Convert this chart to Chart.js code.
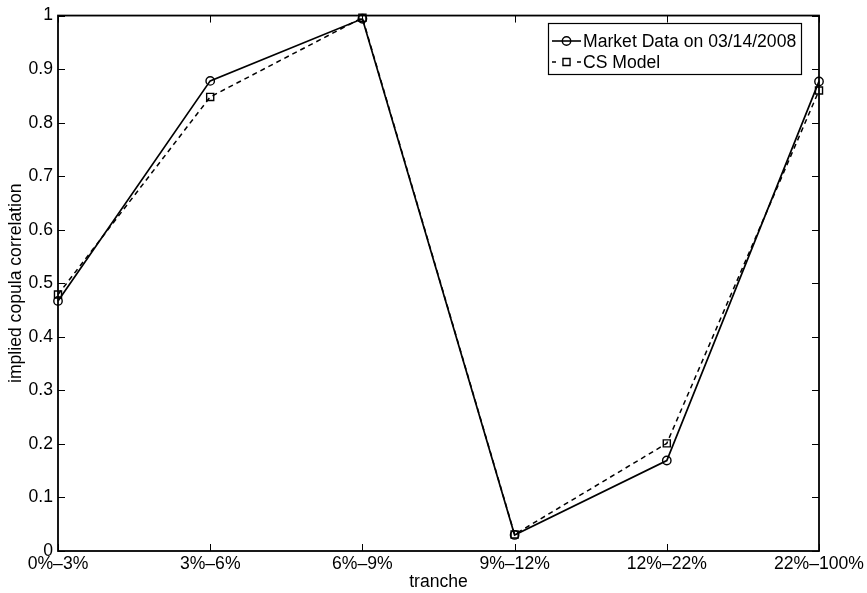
<!DOCTYPE html>
<html>
<head>
<meta charset="utf-8">
<script src="https://cdn.jsdelivr.net/npm/chart.js@4/dist/chart.umd.min.js"></script>
<style>
  html, body { margin: 0; padding: 0; background: #fff; }
  #wrap { width: 867px; height: 593px; }
</style>
</head>
<body>
<div id="wrap"><canvas id="c" width="867" height="593"></canvas></div>
<script>
// Implied copula correlation per tranche
const tranches = ['0%\u20133%', '3%\u20136%', '6%\u20139%', '9%\u201312%', '12%\u201322%', '22%\u2013100%'];
const marketData = [0.467, 0.878, 0.994, 0.030, 0.169, 0.877];
const csModel = [0.479, 0.848, 0.996, 0.031, 0.201, 0.860];
const yTickLabels = ['0', '0.1', '0.2', '0.3', '0.4', '0.5', '0.6', '0.7', '0.8', '0.9', '1'];
const seriesNames = ['Market Data on 03/14/2008', 'CS Model'];

const FONT = 'Liberation Sans, Arial, Helvetica, sans-serif';
const FSIZE = 17.6;
const TICK_LEN = 7;

// MATLAB style box: frame + inward ticks on all four sides
const boxTicks = {
  id: 'boxTicks',
  afterDraw(chart) {
    const { ctx, chartArea: a } = chart;
    const xs = chart.scales.x, ys = chart.scales.y;
    ctx.save();
    ctx.strokeStyle = '#000';
    ctx.lineWidth = 1;
    ctx.beginPath();
    xs.ticks.forEach((t, i) => {
      const px = Math.round(xs.getPixelForValue(i)) + 0.5;
      ctx.moveTo(px, a.bottom); ctx.lineTo(px, a.bottom - TICK_LEN);
      ctx.moveTo(px, a.top); ctx.lineTo(px, a.top + TICK_LEN);
    });
    ys.ticks.forEach((t) => {
      const py = Math.round(ys.getPixelForValue(t.value)) + 0.5;
      ctx.moveTo(a.left, py); ctx.lineTo(a.left + TICK_LEN, py);
      ctx.moveTo(a.right, py); ctx.lineTo(a.right - TICK_LEN, py);
    });
    ctx.stroke();
    ctx.lineWidth = 1.8;
    ctx.strokeRect(a.left, a.top, a.right - a.left, a.bottom - a.top);
    ctx.restore();
  }
};

// Legend box in the upper right of the axes
const boxLegend = {
  id: 'boxLegend',
  afterDraw(chart) {
    const ctx = chart.ctx;
    const bx = 548.5, by = 23.5, bw = 253, bh = 51;
    ctx.save();
    ctx.fillStyle = '#fff';
    ctx.fillRect(bx, by, bw, bh);
    ctx.strokeStyle = '#000';
    ctx.lineWidth = 1.2;
    ctx.strokeRect(bx, by, bw, bh);

    const rows = [41, 62];
    chart.data.datasets.forEach((ds, i) => {
      const y = rows[i];
      ctx.strokeStyle = '#000';
      ctx.lineWidth = 1.6;
      ctx.beginPath();
      if (i === 0) {
        ctx.moveTo(552, y); ctx.lineTo(581, y);
      } else {
        ctx.moveTo(552, y); ctx.lineTo(556, y);
        ctx.moveTo(577, y); ctx.lineTo(581, y);
      }
      ctx.stroke();
      ctx.lineWidth = 1.4;
      ctx.beginPath();
      if (ds.pointStyle === 'circle') {
        ctx.arc(566.5, y, ds.pointRadius, 0, Math.PI * 2);
      } else {
        const s = Math.SQRT1_2 * ds.pointRadius;
        ctx.rect(566.5 - s, y - s, 2 * s, 2 * s);
      }
      ctx.stroke();
      ctx.fillStyle = '#000';
      ctx.font = FSIZE + 'px ' + FONT;
      ctx.textAlign = 'left';
      ctx.textBaseline = 'middle';
      ctx.fillText(ds.label, 583, y + 1);
    });
    ctx.restore();
  }
};

const ctx = document.getElementById('c').getContext('2d');
new Chart(ctx, {
  type: 'line',
  data: {
    labels: tranches,
    datasets: [
      {
        label: seriesNames[0],
        data: marketData,
        borderColor: '#000',
        borderWidth: 1.7,
        backgroundColor: 'rgba(0,0,0,0)',
        pointStyle: 'circle',
        pointRadius: 4.2,
        pointBorderWidth: 1.4,
        pointBorderColor: '#000',
        pointBackgroundColor: 'rgba(0,0,0,0)',
        tension: 0,
        clip: false
      },
      {
        label: seriesNames[1],
        data: csModel,
        borderColor: '#000',
        borderWidth: 1.5,
        borderDash: [5, 4],
        backgroundColor: 'rgba(0,0,0,0)',
        pointStyle: 'rect',
        pointRadius: 5,
        pointBorderWidth: 1.4,
        pointBorderColor: '#000',
        pointBackgroundColor: 'rgba(0,0,0,0)',
        tension: 0,
        clip: false
      }
    ]
  },
  options: {
    responsive: false,
    animation: false,
    layout: { padding: { top: 11, right: 47, left: 0, bottom: 0 } },
    plugins: {
      legend: { display: false },
      tooltip: { enabled: false }
    },
    scales: {
      x: {
        type: 'category',
        offset: false,
        grid: { display: false, drawTicks: false },
        border: { display: false },
        ticks: {
          color: '#000',
          font: { family: FONT, size: FSIZE },
          padding: 3,
          maxRotation: 0,
          autoSkip: false
        },
        title: {
          display: true,
          text: 'tranche',
          color: '#000',
          font: { family: FONT, size: FSIZE },
          padding: { top: 0, bottom: 0 }
        },
        afterFit(scale) { scale.height = 42; }
      },
      y: {
        min: 0,
        max: 1,
        grid: { display: false, drawTicks: false },
        border: { display: false },
        ticks: {
          stepSize: 0.1,
          color: '#000',
          font: { family: FONT, size: FSIZE },
          padding: 5,
          callback: (value, index) => yTickLabels[index]
        },
        title: {
          display: true,
          text: 'implied copula correlation',
          color: '#000',
          font: { family: FONT, size: FSIZE },
          padding: { top: 6, bottom: 0 }
        },
        afterFit(scale) { scale.width = 58; }
      }
    }
  },
  plugins: [boxTicks, boxLegend]
});
</script>
</body>
</html>
